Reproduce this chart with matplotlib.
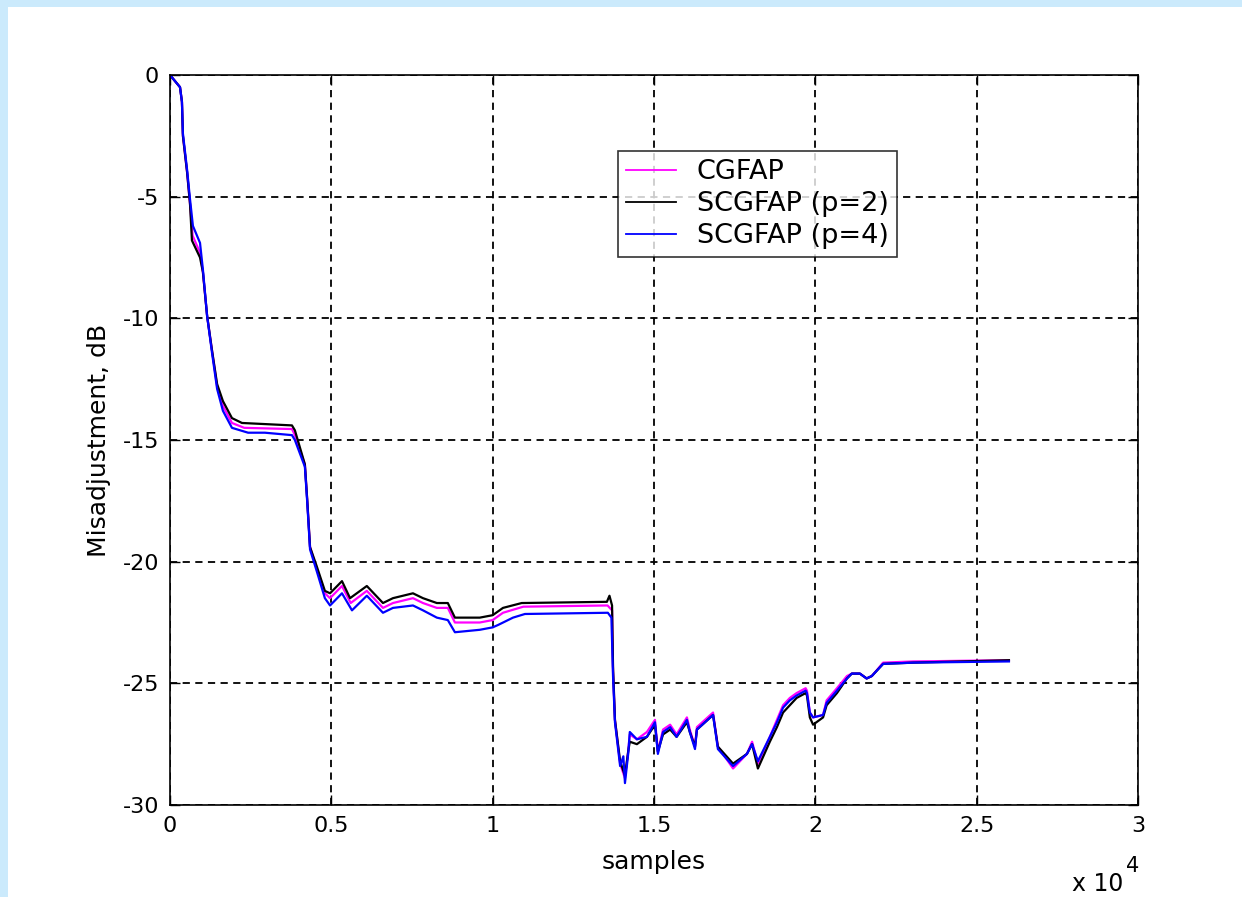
import matplotlib
matplotlib.use("Agg")
import matplotlib.pyplot as plt
from matplotlib.patches import Rectangle

plt.rcParams['font.family'] = ['DejaVu Sans']

# ---- data (samples, dB) ----
x_p4 = [0, 310, 370, 400, 530, 620, 710, 930, 1020, 1150, 1300, 1460, 1640, 1920, 2420, 2940, 3780,
        3870, 4180, 4250, 4340, 4550, 4800, 4960, 5330, 5640, 6100, 6600, 6910, 7530, 7840, 8270, 8610,
        8830, 9600, 10000, 10170, 10630, 11000, 13570, 13680, 13730, 13790, 13950, 14050, 14100, 14200,
        14250, 14470, 14780, 15030, 15120, 15280, 15500, 15700, 16020, 16110, 16270, 16330, 16580, 16830,
        16980, 17450, 17880, 18040, 18220, 18590, 18810, 19000, 19210, 19420, 19700, 19740, 19830, 19930,
        20240, 20350, 20670, 20980, 21130, 21380, 21590, 21750, 22100, 23030, 26000]
y_p4 = [0, -0.5, -1.1, -2.4, -3.9, -5.1, -6.2, -6.9, -8.0, -9.9, -11.4, -12.9, -13.8, -14.5, -14.7, -14.7, -14.8,
        -15.0, -16.1, -17.5, -19.5, -20.4, -21.5, -21.8, -21.3, -22.0, -21.4, -22.1, -21.9, -21.8, -22.0, -22.3, -22.4,
        -22.9, -22.8, -22.7, -22.6, -22.3, -22.15, -22.1, -22.3, -24.7, -26.6, -28.4, -28.0, -29.1, -27.9,
        -27.0, -27.3, -27.2, -26.6, -27.9, -27.0, -26.8, -27.2, -26.5, -27.0, -27.7, -26.9, -26.6, -26.3,
        -27.7, -28.4, -27.9, -27.5, -28.2, -27.2, -26.6, -26.0, -25.7, -25.5, -25.3, -25.4, -26.2, -26.4,
        -26.3, -25.8, -25.3, -24.8, -24.6, -24.6, -24.8, -24.7, -24.2, -24.15, -24.1]

x_p2 = [0, 310, 370, 400, 530, 620, 680, 930, 1020, 1150, 1300, 1460, 1640, 1920, 2230, 3780,
        3870, 4180, 4250, 4340, 4550, 4800, 4960, 5330, 5580, 6100, 6600, 6910, 7530, 7840, 8270, 8610,
        8830, 9600, 10000, 10320, 10900, 13540, 13620, 13700, 13730, 13790, 13950, 14100, 14200,
        14250, 14470, 14780, 15030, 15120, 15280, 15500, 15700, 16020, 16110, 16270, 16330, 16580, 16830,
        16980, 17450, 17880, 18040, 18220, 18590, 18810, 19000, 19210, 19420, 19700, 19740, 19830, 19930,
        20240, 20350, 20670, 20980, 21130, 21380, 21590, 21750, 22100, 23030, 26000]
y_p2 = [0, -0.5, -1.1, -2.5, -4.0, -5.3, -6.8, -7.5, -8.1, -9.9, -11.3, -12.7, -13.4, -14.1, -14.3, -14.4,
        -14.6, -16.0, -17.4, -19.4, -20.2, -21.2, -21.3, -20.8, -21.5, -21.0, -21.7, -21.5, -21.3, -21.5, -21.7, -21.7,
        -22.3, -22.3, -22.2, -21.9, -21.7, -21.65, -21.4, -21.8, -24.3, -26.5, -28.2, -28.8, -27.8,
        -27.4, -27.5, -27.2, -26.7, -27.8, -27.1, -26.9, -27.2, -26.6, -27.0, -27.6, -26.9, -26.6, -26.3,
        -27.6, -28.3, -27.9, -27.5, -28.5, -27.4, -26.8, -26.2, -25.9, -25.6, -25.4, -25.5, -26.4, -26.7,
        -26.4, -25.9, -25.4, -24.8, -24.6, -24.6, -24.8, -24.7, -24.2, -24.15, -24.05]

x_cg = [0, 310, 370, 400, 530, 620, 700, 930, 1020, 1150, 1300, 1460, 1640, 1920, 2300, 3780,
        3870, 4180, 4250, 4340, 4550, 4800, 4960, 5330, 5600, 6100, 6600, 6910, 7530, 7840, 8270, 8610,
        8830, 9600, 10000, 10320, 10950, 13560, 13700, 13730, 13790, 13950, 14100, 14200,
        14250, 14470, 14780, 15030, 15120, 15280, 15500, 15700, 16020, 16110, 16270, 16330, 16580, 16830,
        16980, 17450, 17880, 18040, 18220, 18590, 18810, 19000, 19210, 19420, 19700, 19740, 19830, 19930,
        20240, 20350, 20670, 20980, 21130, 21380, 21590, 21750, 22100, 23030, 26000]
y_cg = [0, -0.5, -1.1, -2.5, -4.0, -5.3, -6.6, -7.3, -8.1, -9.9, -11.3, -12.8, -13.6, -14.3, -14.5, -14.55,
        -14.8, -16.0, -17.4, -19.4, -20.3, -21.3, -21.5, -21.0, -21.7, -21.2, -21.9, -21.7, -21.5, -21.7, -21.9, -21.9,
        -22.5, -22.5, -22.4, -22.1, -21.85, -21.8, -22.0, -24.5, -26.5, -28.3, -28.9, -27.8,
        -27.1, -27.3, -27.0, -26.5, -27.8, -26.9, -26.7, -27.1, -26.4, -26.9, -27.6, -26.8, -26.5, -26.2,
        -27.6, -28.5, -27.9, -27.4, -28.3, -27.2, -26.5, -25.9, -25.6, -25.4, -25.2, -25.3, -26.2, -26.4,
        -26.3, -25.7, -25.2, -24.7, -24.6, -24.6, -24.8, -24.7, -24.15, -24.1, -24.05]

labels = ['CGFAP', 'SCGFAP (p=2)', 'SCGFAP (p=4)']
colors = ['#ff00ff', '#000000', '#0000ff']

x_ticks = [0, 5000, 10000, 15000, 20000, 25000, 30000]
x_ticklabels = ['0', '0.5', '1', '1.5', '2', '2.5', '3']
y_ticks = [0, -5, -10, -15, -20, -25, -30]
y_ticklabels = ['0', '-5', '-10', '-15', '-20', '-25', '-30']

W, H = 1242, 897
fig = plt.figure(figsize=(W / 100, H / 100), dpi=100)
fig.patch.set_facecolor('#cbeafc')
fig.patches.append(Rectangle((8 / W, 0), 1, 1 - 7 / H, transform=fig.transFigure,
                             facecolor='white', edgecolor='none', zorder=-1))

ax = fig.add_axes([170 / W, 1 - 805 / H, (1138 - 170) / W, (805 - 75) / H])
for xs, ys, lab, c in zip([x_cg, x_p2, x_p4], [y_cg, y_p2, y_p4], labels, colors):
    ax.plot(xs, ys, color=c, lw=1.6, label=lab)

ax.set_xlim(0, 30000)
ax.set_ylim(-30, 0)
ax.set_xticks(x_ticks)
ax.set_xticklabels(x_ticklabels)
ax.set_yticks(y_ticks)
ax.set_yticklabels(y_ticklabels)
ax.tick_params(direction='in', length=7, width=1, top=True, right=True,
               labelsize=16, pad=8, colors='black')
ax.grid(True, color='black', linestyle=(0, (4, 3)), linewidth=1.3)
for s in ax.spines.values():
    s.set_linewidth(1.2)

ax.set_xlabel('samples', fontsize=18, labelpad=10)
ax.set_ylabel('Misadjustment, dB', fontsize=18, labelpad=8)
fig.text(1072 / W, 1 - 891 / H, 'x 10', fontsize=17, va='baseline', ha='left')
fig.text(1126 / W, 1 - 872 / H, '4', fontsize=15, va='baseline', ha='left')

leg = ax.legend(loc='upper left', bbox_to_anchor=((618 - 170) / 968, 1 - (151 - 75) / 730),
                fontsize=19.5, frameon=True, fancybox=False, edgecolor='black',
                handlelength=1.85, handletextpad=0.75, borderpad=0.3, labelspacing=0.22,
                borderaxespad=0)
leg.get_frame().set_linewidth(1.2)
for line in leg.get_lines():
    line.set_linewidth(1.3)

fig.savefig('out.png', dpi=100, facecolor=fig.get_facecolor())
